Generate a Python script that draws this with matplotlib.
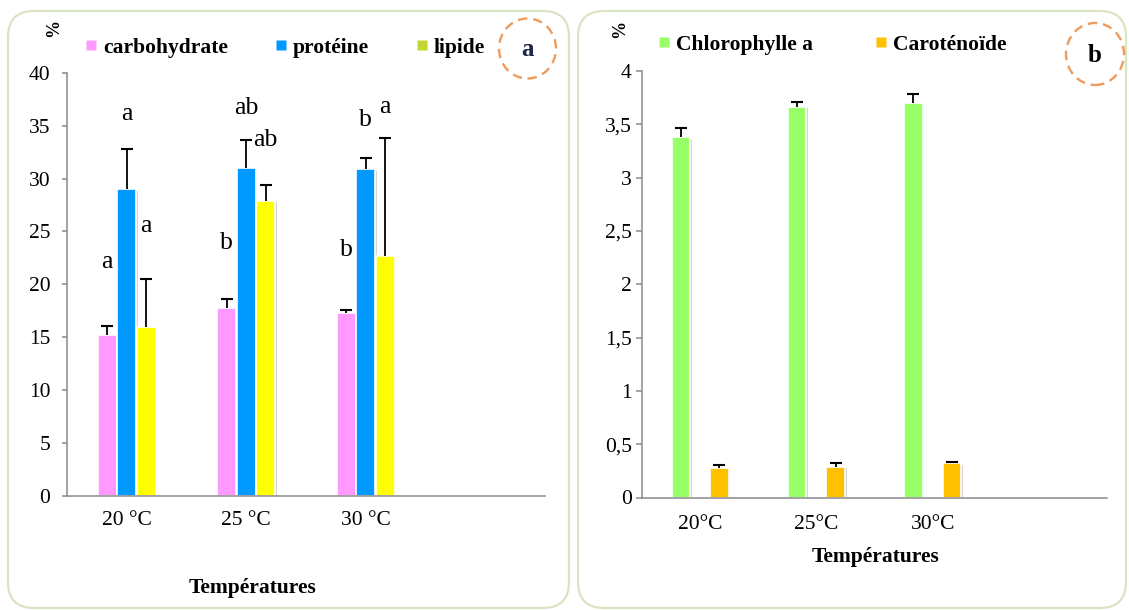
import numpy as np
import matplotlib.pyplot as plt
import matplotlib.patheffects as pe
from matplotlib.lines import Line2D
from matplotlib.patches import FancyBboxPatch, Ellipse
from matplotlib.transforms import IdentityTransform

plt.rcParams['font.family'] = ['Liberation Serif', 'DejaVu Serif']

# panel a : biochemical composition
temps_a = ['20 °C', '25 °C', '30 °C', '']
carbohydrate = [15.2, 17.8, 17.3]
carbohydrate_err = [0.9, 0.8, 0.3]
proteine = [29.0, 31.0, 30.9]
proteine_err = [3.8, 2.6, 1.05]
lipide = [15.95, 27.9, 22.7]
lipide_err = [4.55, 1.5, 11.1]
carbohydrate_lettres = ['a', 'b', 'b']
carbohydrate_lettres_y = [22.1, 23.9, 23.2]
proteine_lettres = ['a', 'ab', 'b']
proteine_lettres_y = [36.1, 36.7, 35.5]
lipide_lettres = ['a', 'ab', 'a']
lipide_lettres_y = [25.5, 33.6, 36.8]

# panel b : pigments
temps_b = ['20°C', '25°C', '30°C', '']
chlorophylle = [3.379, 3.666, 3.703]
chlorophylle_err = [0.084, 0.047, 0.085]
carotenoide = [0.275, 0.29, 0.32]
carotenoide_err = [0.03, 0.03, 0.015]

W, H = 1129, 610
fig = plt.figure(figsize=(W / 100, H / 100), dpi=100)

# rounded frames round each panel (pixel coordinates)
for x0, x1 in [(8, 569), (578, 1126)]:
    fig.add_artist(FancyBboxPatch((x0, 2), x1 - x0, 597,
                                  boxstyle='round,pad=0,rounding_size=26',
                                  transform=IdentityTransform(),
                                  fc='none', ec='#d9e5c2', lw=1.6))

shadow = [pe.SimplePatchShadow(offset=(1.2, -1.2), shadow_rgbFace='#888888', alpha=0.35),
          pe.Normal()]


def style_axis(ax, ylim, yticks, ylabels, xlabels, ypad, ylen, xpad):
    for s in ['top', 'right']:
        ax.spines[s].set_visible(False)
    for s in ['left', 'bottom']:
        ax.spines[s].set_color('#898989')
        ax.spines[s].set_linewidth(1.1)
    ax.set_xlim(-0.5, 3.5)
    ax.set_ylim(*ylim)
    ax.set_yticks(yticks)
    ax.set_yticklabels(ylabels)
    ax.set_xticks(np.arange(4))
    ax.set_xticklabels(xlabels)
    ax.tick_params(axis='y', length=ylen, width=1.1, color='#898989', pad=ypad, labelsize=15.5)
    ax.tick_params(axis='x', length=0, pad=xpad, labelsize=15.5)


def bars(ax, xs, vals, errs, color, w):
    vals = np.array(vals)
    errs = np.array(errs)
    ax.bar(xs, vals, w, color=color, edgecolor='white', linewidth=1.2,
           path_effects=shadow, zorder=2)
    # upper error bar only, cap on top
    ax.errorbar(xs, vals, yerr=[np.zeros(len(vals)), errs], fmt='none',
                ecolor='black', elinewidth=1.3, capsize=0, zorder=3)
    ax.plot(xs, vals + errs, ls='none', marker='_', ms=9, mew=1.5, color='black', zorder=3)


# ---------- panel a ----------
ax1 = fig.add_axes([67 / W, (H - 496) / H, 478 / W, 423.3 / H])
x = np.arange(3)
off, w = 0.163, 0.16
bars(ax1, x - off, carbohydrate, carbohydrate_err, '#ff99ff', w)
bars(ax1, x, proteine, proteine_err, '#0099ff', w)
bars(ax1, x + off, lipide, lipide_err, '#ffff00', w)
for xs, lets, ys in [(x - off, carbohydrate_lettres, carbohydrate_lettres_y),
                     (x, proteine_lettres, proteine_lettres_y),
                     (x + off, lipide_lettres, lipide_lettres_y)]:
    for xi, t, yi in zip(xs, lets, ys):
        ax1.text(xi, yi, t, ha='center', va='center', fontsize=18.5)
style_axis(ax1, (0, 40), np.arange(0, 41, 5), [str(v) for v in range(0, 41, 5)],
           temps_a, 8.5, 3.6, 11)

h1 = [Line2D([], [], ls='none', marker='s', ms=7, mec='none', mfc=c)
      for c in ['#ff99ff', '#0099ff', '#c3d530']]
ax1.legend(h1, ['carbohydrate', 'protéine', 'lipide'], ncol=3, frameon=False,
           loc='center left', bbox_to_anchor=(86 / W, 1 - 48 / H), bbox_transform=fig.transFigure,
           borderpad=0, borderaxespad=0, handlelength=0.5, handletextpad=0.3,
           columnspacing=2.2, prop={'weight': 'bold', 'size': 15.5})

fig.text(253 / W, 1 - 588 / H, 'Températures', ha='center', va='center',
         fontsize=15.5, fontweight='bold')
fig.text(54 / W, 1 - 28 / H, '%', rotation=90, ha='center', va='center',
         fontsize=13, fontweight='bold')

# ---------- panel b ----------
ax2 = fig.add_axes([642 / W, (H - 497.5) / H, 465 / W, 426.5 / H])
off2, w2 = 0.166, 0.16
bars(ax2, x - off2, chlorophylle, chlorophylle_err, '#99ff66', w2)
bars(ax2, x + off2, carotenoide, carotenoide_err, '#ffc000', w2)
yt = np.arange(0, 4.01, 0.5)
style_axis(ax2, (0, 4), yt, [f'{v:g}'.replace('.', ',') for v in yt],
           temps_b, 3, 4.3, 12.5)

h2 = [Line2D([], [], ls='none', marker='s', ms=7, mec='none', mfc=c)
      for c in ['#99ff66', '#ffc000']]
ax2.legend(h2, ['Chlorophylle a', 'Caroténoïde'], ncol=2, frameon=False,
           loc='center left', bbox_to_anchor=(659 / W, 1 - 45 / H), bbox_transform=fig.transFigure,
           borderpad=0, borderaxespad=0, handlelength=0.5, handletextpad=0.3,
           columnspacing=2.9, prop={'weight': 'bold', 'size': 15.5})

fig.text(875 / W, 1 - 557 / H, 'Températures', ha='center', va='center',
         fontsize=15.5, fontweight='bold')
fig.text(620 / W, 1 - 29 / H, '%', rotation=90, ha='center', va='center',
         fontsize=13, fontweight='bold')

# dashed circles with panel letters
for cx, cy, ew, eh, lab, col in [(527.5, 48.5, 57, 60, 'a', '#1c2545'),
                                 (1095, 54, 58, 62, 'b', 'black')]:
    fig.add_artist(Ellipse((cx, H - cy), ew, eh, transform=IdentityTransform(),
                           fc='none', ec='#ee9b5b', lw=1.7, ls=(0, (4, 2.5))))
    fig.text(cx / W, 1 - (cy + 1) / H, lab, ha='center', va='center',
             fontsize=18, fontweight='bold', color=col)

fig.savefig('out.png', dpi=100)
